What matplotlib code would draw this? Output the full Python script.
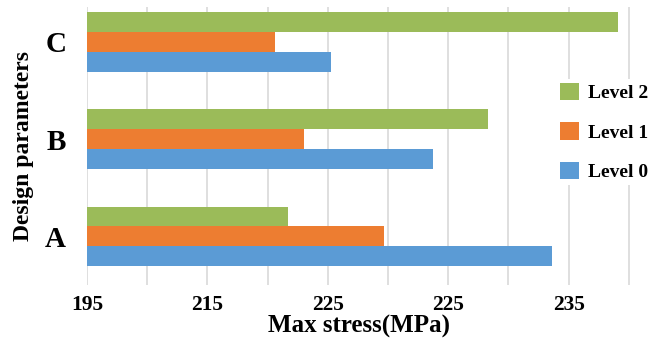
import numpy as np
import matplotlib
matplotlib.use("Agg")
import matplotlib.pyplot as plt

# Values
categories = ["A", "B", "C"]
level0 = [233.65, 223.7, 215.3]
level1 = [219.7, 213.0, 210.6]
level2 = [211.7, 228.3, 239.1]
series_names = ["Level 0", "Level 1", "Level 2"]

# Tick labels exactly as printed in the reference
xtick_pos = [195, 205, 215, 225, 235]
xtick_labels = ["195", "215", "225", "225", "235"]
grid_pos = [200, 210, 220, 230, 240]

COLORS = {"Level 0": "#5B9BD5", "Level 1": "#ED7D31", "Level 2": "#9BBB59"}

plt.rcParams["font.family"] = ["Liberation Serif", "DejaVu Serif"]
plt.rcParams["font.weight"] = "bold"

fig = plt.figure(figsize=(6.6, 3.42), dpi=100)
ax = fig.add_axes([87 / 660, 1 - 285 / 342, (630 - 87) / 660, (285 - 7) / 342])

y = np.arange(len(categories))
h = 0.204
ax.barh(y - h, level0, height=h, color=COLORS["Level 0"], label="Level 0", zorder=3)
ax.barh(y, level1, height=h, color=COLORS["Level 1"], label="Level 1", zorder=3)
ax.barh(y + h, level2, height=h, color=COLORS["Level 2"], label="Level 2", zorder=3)

ax.set_xlim(195, 240.1)
ax.set_ylim(-0.5, 2.36)

ax.set_xticks(xtick_pos)
ax.set_xticklabels(xtick_labels, fontsize=15.5, fontweight="bold")
ax.set_xticks(grid_pos, minor=True)
ax.set_yticks(y)
ax.set_yticklabels(categories, fontsize=21, fontweight="bold")
ax.tick_params(axis="both", which="both", length=0)
ax.tick_params(axis="x", pad=7)
ax.tick_params(axis="y", pad=15)

ax.grid(axis="x", which="both", color="#d9d9d9", linewidth=1.2, zorder=0)
for s in ax.spines.values():
    s.set_visible(False)

ax.set_xlabel("Max stress(MPa)", fontsize=18, fontweight="bold", labelpad=0)
ax.set_ylabel("Design parameters", fontsize=17, fontweight="bold", labelpad=8)

handles, labels = ax.get_legend_handles_labels()
leg = fig.legend(handles[::-1], labels[::-1], loc="center left",
                 bbox_to_anchor=(556 / 660, 1 - 132 / 342),
                 bbox_transform=fig.transFigure,
                 prop={"size": 14, "weight": "bold"},
                 handlelength=1.0, handleheight=1.0, handletextpad=0.45,
                 labelspacing=1.05, borderpad=0.2, borderaxespad=0,
                 frameon=True, fancybox=False)
leg.get_frame().set_facecolor("white")
leg.get_frame().set_edgecolor("none")
leg.get_frame().set_alpha(1)
leg.set_zorder(5)

fig.savefig("out.png", dpi=100)
